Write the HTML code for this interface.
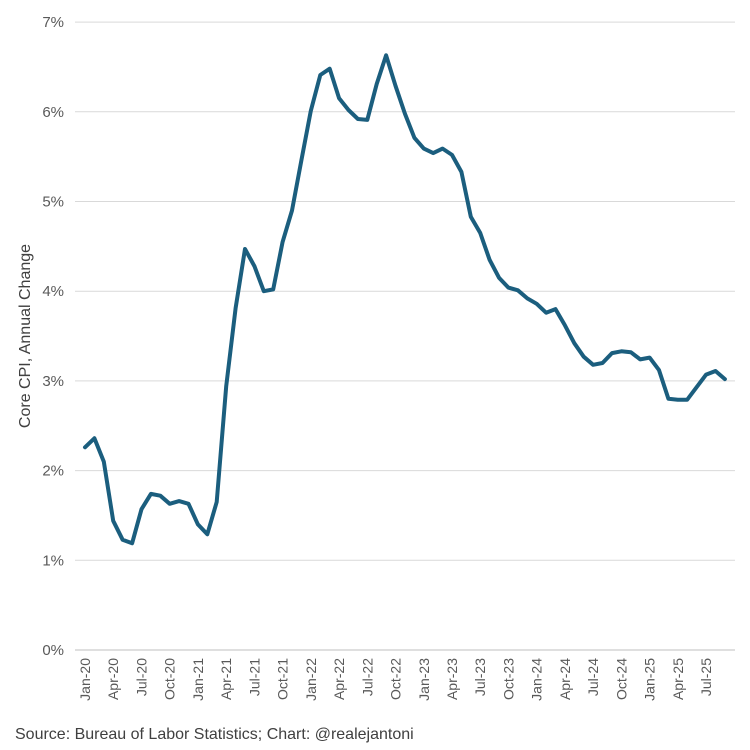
<!DOCTYPE html>
<html><head><meta charset="utf-8"><style>
body{margin:0;background:#fff}
svg{display:block;font-family:"Liberation Sans",Arial,sans-serif}
</style></head><body>
<svg id="chart" width="750" height="750" viewBox="0 0 750 750">
<g id="grid"></g><g id="yticks"></g><g id="xticks"></g>
<path id="line" fill="none" stroke="#1b5e7e" stroke-width="4" stroke-linejoin="round" stroke-linecap="round"/>
<text x="30" y="336" transform="rotate(-90 30 336)" text-anchor="middle" font-size="16" fill="#404040">Core CPI, Annual Change</text>
<text x="15" y="739" font-size="16" fill="#404040">Source: Bureau of Labor Statistics; Chart: @realejantoni</text>
</svg>
<script>
const months=["Jan","Feb","Mar","Apr","May","Jun","Jul","Aug","Sep","Oct","Nov","Dec"];
const startYear=20;
const values=[2.26,2.36,2.1,1.44,1.23,1.19,1.57,1.74,1.72,1.63,1.66,1.63,
1.4,1.29,1.65,2.94,3.81,4.47,4.28,4.0,4.02,4.55,4.9,5.46,
6.01,6.41,6.48,6.15,6.02,5.92,5.91,6.31,6.63,6.29,5.98,5.71,
5.59,5.54,5.59,5.52,5.33,4.83,4.65,4.35,4.15,4.04,4.01,3.92,
3.86,3.76,3.8,3.62,3.42,3.27,3.18,3.2,3.31,3.33,3.32,3.24,
3.26,3.12,2.8,2.79,2.79,2.93,3.07,3.11,3.02];
const yTicks=[0,1,2,3,4,5,6,7];
const NS="http://www.w3.org/2000/svg";
const x=i=>85+i*9.41;
const y=v=>650-v*89.7;
const grid=document.getElementById('grid'),yt=document.getElementById('yticks'),xt=document.getElementById('xticks');
yTicks.forEach(t=>{
 const l=document.createElementNS(NS,'line');
 l.setAttribute('x1',75);l.setAttribute('x2',735);l.setAttribute('y1',y(t));l.setAttribute('y2',y(t));
 l.setAttribute('stroke',t===0?'#bfbfbf':'#d9d9d9');l.setAttribute('stroke-width',1);
 
 
 grid.appendChild(l);
 const tx=document.createElementNS(NS,'text');
 tx.setAttribute('x',64);tx.setAttribute('y',y(t)+5);tx.setAttribute('text-anchor','end');
 tx.setAttribute('font-size','15');tx.setAttribute('fill','#595959');tx.textContent=t+'%';
 
 
 yt.appendChild(tx);
});
values.forEach((v,i)=>{
 if(i%3!==0)return;
 const xx=x(i)+5;
 const tx=document.createElementNS(NS,'text');
 tx.setAttribute('x',xx);tx.setAttribute('y',658);tx.setAttribute('text-anchor','end');
 tx.setAttribute('transform','rotate(-90 '+xx+' 658)');
 tx.setAttribute('font-size','14');tx.setAttribute('fill','#595959');
 tx.textContent=months[i%12]+'-'+(startYear+Math.floor(i/12));
 
 
 xt.appendChild(tx);
});
document.getElementById('line').setAttribute('d',values.map((v,i)=>(i?'L':'M')+x(i).toFixed(1)+','+y(v).toFixed(1)).join(''));
</script>
</body></html>
